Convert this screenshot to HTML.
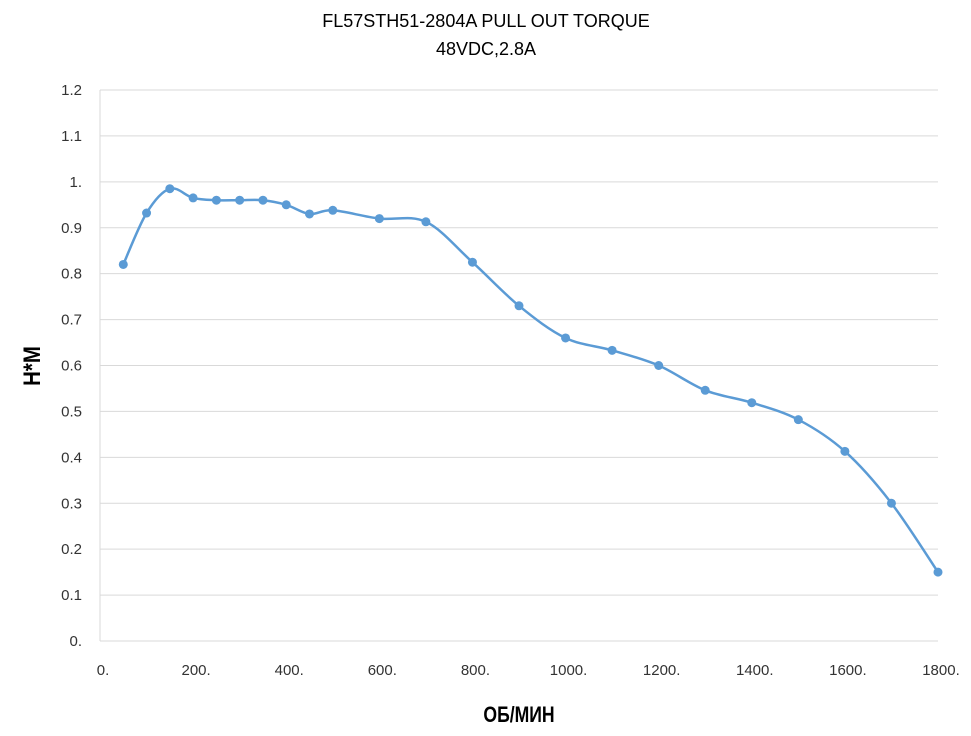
<!DOCTYPE html>
<html><head><meta charset="utf-8"><style>
body{margin:0;background:#fff;}
svg text{font-family:"Liberation Sans",sans-serif;fill:#333;}
</style></head><body>
<svg id="s" width="971" height="731" xmlns="http://www.w3.org/2000/svg">
<rect width="971" height="731" fill="#fff"/>
<text x="486" y="27" font-size="18" text-anchor="middle" style="fill:#000">FL57STH51-2804A PULL OUT TORQUE</text>
<text x="486" y="55" font-size="18" text-anchor="middle" style="fill:#000">48VDC,2.8A</text>
<g id="grid" stroke="#d9d9d9" stroke-width="1"></g>
<g id="lab" font-size="15"></g>
<text x="0" y="0" font-size="24" font-weight="bold" text-anchor="middle" transform="translate(40,366) rotate(-90) scale(0.85,1)" style="fill:#000">Н*М</text>
<text x="0" y="0" font-size="22" font-weight="bold" text-anchor="middle" transform="translate(519,722) scale(0.8,1)" style="fill:#000">ОБ/МИН</text>
<path id="curve" fill="none" stroke="#5b9bd5" stroke-width="2.5"/>
<g id="pts" fill="#5b9bd5"></g>
</svg>
<script>
var NS="http://www.w3.org/2000/svg";
function el(t,a,p,txt){var e=document.createElementNS(NS,t);for(var k in a)e.setAttribute(k,a[k]);if(txt!==undefined)e.textContent=txt;document.getElementById(p).appendChild(e);return e;}
var X=function(v){return 100+v*838/1800;},Y=function(v){return 641-v*551/1.2;};
var yl=["0.","0.1","0.2","0.3","0.4","0.5","0.6","0.7","0.8","0.9","1.","1.1","1.2"];
for(var i=0;i<=12;i++){var y=Y(i/10);el("line",{x1:100,x2:938,y1:y,y2:y},"grid");el("text",{x:82,y:y+5,"text-anchor":"end"},"lab",yl[i]);}
el("line",{x1:100,x2:100,y1:90,y2:641},"grid");
for(var v=0;v<=1800;v+=200){el("text",{x:X(v)+3,y:675,"text-anchor":"middle"},"lab",v+".");}
var d=[[50,.82],[100,.932],[150,.985],[200,.965],[250,.96],[300,.96],[350,.96],[400,.95],[450,.93],[500,.938],[600,.92],[700,.913],[800,.825],[900,.73],[1000,.66],[1100,.633],[1200,.6],[1300,.546],[1400,.519],[1500,.482],[1600,.413],[1700,.3],[1800,.15]];
var p=d.map(function(a){return [X(a[0]),Y(a[1])];});
var s="M"+p[0][0]+","+p[0][1];
for(var i=0;i<p.length-1;i++){var p0=p[Math.max(0,i-1)],p1=p[i],p2=p[i+1],p3=p[Math.min(p.length-1,i+2)],t=6;
s+=" C"+(p1[0]+(p2[0]-p0[0])/t)+","+(p1[1]+(p2[1]-p0[1])/t)+" "+(p2[0]-(p3[0]-p1[0])/t)+","+(p2[1]-(p3[1]-p1[1])/t)+" "+p2[0]+","+p2[1];}
document.getElementById("curve").setAttribute("d",s);
p.forEach(function(q){el("circle",{cx:q[0],cy:q[1],r:4.5},"pts");});
</script>
</body></html>
